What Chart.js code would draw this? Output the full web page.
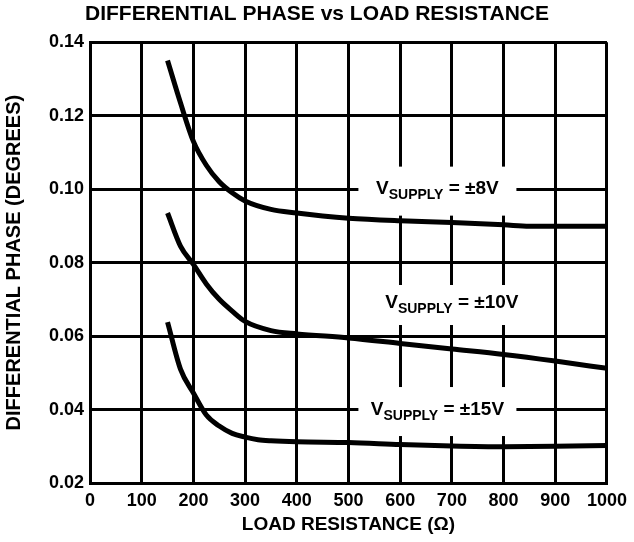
<!DOCTYPE html>
<html>
<head>
<meta charset="utf-8">
<title>Differential Phase vs Load Resistance</title>
<script src="https://cdn.jsdelivr.net/npm/chart.js@4.4.1/dist/chart.umd.min.js"></script>
<style>
    html, body { margin: 0; padding: 0; background: #fff; }
    canvas { display: block; }
</style>
</head>
<body>
<canvas id="phase-chart" width="634" height="542"></canvas>
<script>
// Tick labels
var xTicks = [0, 100, 200, 300, 400, 500, 600, 700, 800, 900, 1000];
var yTicks = [0.02, 0.04, 0.06, 0.08, 0.10, 0.12, 0.14];

// Vsupply = +-8V
var load8 = [150, 175, 200, 225, 250, 275, 300, 350, 400, 450, 500, 600, 700, 800, 850, 900, 1000];
var phase8 = [0.135, 0.1235, 0.113, 0.1065, 0.102, 0.099, 0.0968, 0.0945, 0.0935, 0.0927, 0.0921, 0.0914, 0.0909, 0.0903, 0.0899, 0.0899, 0.0899];

// Vsupply = +-10V
var load10 = [150, 175, 200, 225, 250, 275, 300, 350, 400, 500, 600, 700, 800, 900, 1000];
var phase10 = [0.0935, 0.0845, 0.0795, 0.0742, 0.070, 0.0668, 0.064, 0.0615, 0.0606, 0.0595, 0.058, 0.0565, 0.055, 0.0532, 0.0512];

// Vsupply = +-15V
var load15 = [150, 175, 200, 225, 250, 275, 300, 325, 350, 400, 500, 600, 700, 800, 900, 1000];
var phase15 = [0.0638, 0.051, 0.0445, 0.0385, 0.0355, 0.0335, 0.0325, 0.0318, 0.0315, 0.0312, 0.031, 0.0305, 0.0301, 0.0299, 0.030, 0.0302];

// Curve labels
var supplyText = ['\u00B18V', '\u00B110V', '\u00B115V'];

var FONT = '"Liberation Sans", Arial, Helvetica, sans-serif';

function toPoints(xs, ys) {
    return xs.map(function (x, i) { return {x: x, y: ys[i]}; });
}

// label boxes, anchored in data units (x, y = text centre) with box size in px
var labelBoxes = [
    {x: 672, y: 0.100, w: 158, h: 49, text: supplyText[0]},
    {x: 700, y: 0.069, w: 180, h: 40, text: supplyText[1]},
    {x: 672, y: 0.040, w: 158, h: 49, text: supplyText[2]}
];

var supplyLabels = {
    id: 'supplyLabels',
    afterDatasetsDraw: function (chart) {
        var ctx = chart.ctx;
        var xs = chart.scales.x, ys = chart.scales.y;
        labelBoxes.forEach(function (l) {
            var cx = xs.getPixelForValue(l.x);
            var cy = ys.getPixelForValue(l.y);
            ctx.save();
            ctx.fillStyle = '#fff';
            ctx.fillRect(cx - l.w / 2, cy - l.h / 2 + 2, l.w, l.h);

            var big = 'bold 19px ' + FONT;
            var small = 'bold 14px ' + FONT;
            var rest = ' = ' + l.text;
            ctx.font = big;
            var wV = ctx.measureText('V').width;
            var wR = ctx.measureText(rest).width;
            ctx.font = small;
            var wS = ctx.measureText('SUPPLY').width;
            var x0 = cx - (wV + wS + wR) / 2;
            var base = cy + 5;

            ctx.fillStyle = '#000';
            ctx.textBaseline = 'alphabetic';
            ctx.textAlign = 'left';
            ctx.font = big;
            ctx.fillText('V', x0, base);
            ctx.font = small;
            ctx.fillText('SUPPLY', x0 + wV, base + 5);
            ctx.font = big;
            ctx.fillText(rest, x0 + wV + wS, base);
            ctx.restore();
        });
    }
};

var lineStyle = {
    borderColor: '#000',
    borderWidth: 5,
    pointRadius: 0,
    fill: false,
    cubicInterpolationMode: 'monotone'
};

var ctx1 = document.getElementById('phase-chart').getContext('2d');
var myChart1 = new Chart(ctx1, {
    type: 'line',
    data: {
        datasets: [
            Object.assign({label: 'VSUPPLY = ' + supplyText[0], data: toPoints(load8, phase8)}, lineStyle),
            Object.assign({label: 'VSUPPLY = ' + supplyText[1], data: toPoints(load10, phase10)}, lineStyle),
            Object.assign({label: 'VSUPPLY = ' + supplyText[2], data: toPoints(load15, phase15)}, lineStyle)
        ]
    },
    options: {
        responsive: false,
        animation: false,
        layout: {padding: 0},
        plugins: {
            legend: {display: false},
            tooltip: {enabled: false},
            title: {
                display: true,
                text: 'DIFFERENTIAL PHASE vs LOAD RESISTANCE',
                color: '#000',
                font: {family: FONT, size: 21, weight: 'bold'},
                padding: {top: 2, bottom: 15}
            }
        },
        scales: {
            x: {
                type: 'linear',
                min: 0,
                max: 1000,
                afterBuildTicks: function (scale) {
                    scale.ticks = xTicks.map(function (v) { return {value: v}; });
                },
                afterFit: function (scale) { scale.height = 59; },
                grid: {color: '#000', lineWidth: 3, drawTicks: false},
                border: {color: '#000', width: 3},
                ticks: {
                    color: '#000',
                    font: {family: FONT, size: 18, weight: 'bold'},
                    padding: 7,
                    maxRotation: 0,
                    autoSkip: false,
                    callback: function (v) { return String(v); }
                },
                title: {
                    display: true,
                    text: 'LOAD RESISTANCE (\u03A9)',
                    color: '#000',
                    font: {family: FONT, size: 19, weight: 'bold'},
                    padding: {top: 0, bottom: 6}
                }
            },
            y: {
                min: 0.02,
                max: 0.14,
                afterBuildTicks: function (scale) {
                    scale.ticks = yTicks.map(function (v) { return {value: v}; });
                },
                afterFit: function (scale) { scale.width = 90; },
                grid: {color: '#000', lineWidth: 3, drawTicks: false},
                border: {color: '#000', width: 3},
                ticks: {
                    color: '#000',
                    font: {family: FONT, size: 18, weight: 'bold'},
                    padding: 6,
                    autoSkip: false,
                    callback: function (v) { return Number(v).toFixed(2); }
                },
                title: {
                    display: true,
                    text: 'DIFFERENTIAL PHASE (DEGREES)',
                    color: '#000',
                    font: {family: FONT, size: 20, weight: 'bold'},
                    padding: {top: 2, bottom: 0}
                }
            },
            // empty right margin so the title centres on the whole picture
            yRight: {
                position: 'right',
                display: true,
                grid: {display: false},
                border: {display: false},
                ticks: {display: false},
                afterFit: function (scale) { scale.width = 23; }
            }
        }
    },
    plugins: [supplyLabels]
});
</script>
</body>
</html>
